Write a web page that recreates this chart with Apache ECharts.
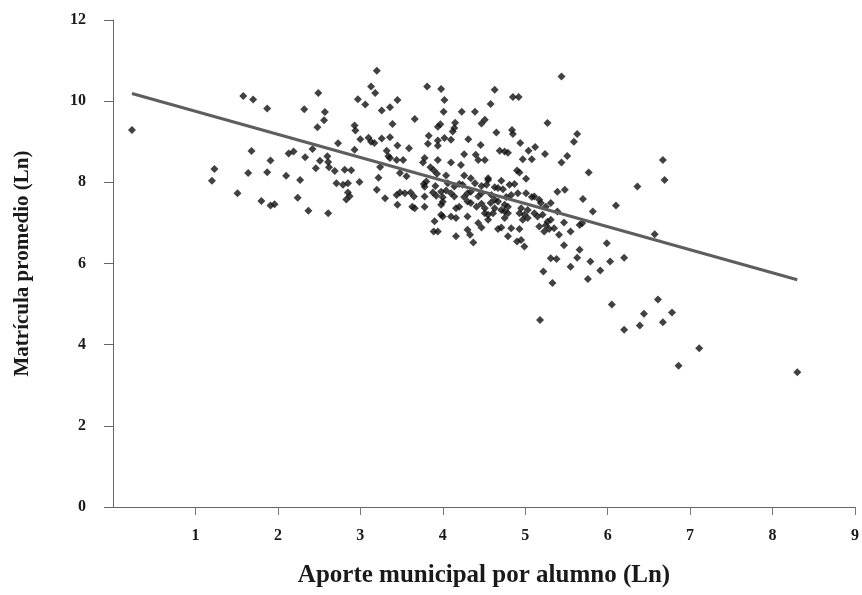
<!DOCTYPE html>
<html>
<head>
<meta charset="utf-8">
<script src="https://cdn.jsdelivr.net/npm/echarts@6/dist/echarts.min.js"></script>
<style>
  html, body { margin: 0; padding: 0; background: #fff; }
  #chart { width: 862px; height: 595px; }
</style>
</head>
<body>
<div id="chart"></div>
<script>
// Aporte municipal por alumno (Ln)
const aporte = [
  0.23, 1.20, 1.23, 1.51, 1.58, 1.70, 1.87, 1.68, 1.64, 1.80, 1.91, 1.96, 1.87, 1.91, 2.13, 2.19,
  2.10, 2.27, 2.24, 2.32, 2.33, 2.37, 2.42, 2.49, 2.57, 2.56, 2.48, 2.51, 2.46, 2.60, 2.61, 2.62,
  2.61, 2.69, 2.73, 2.71, 2.81, 2.89, 2.79, 2.85, 2.85, 2.87, 2.83, 2.93, 2.94, 2.93, 3.00, 2.99,
  2.97, 3.06, 3.10, 3.13, 3.17, 3.13, 3.18, 3.20, 3.26, 3.36, 3.45, 3.39, 3.26, 3.36, 3.45, 3.59,
  3.32, 3.34, 3.36, 3.44, 3.52, 3.24, 3.48, 3.56, 3.22, 3.20, 3.30, 3.44, 3.48, 3.54, 3.45, 3.61,
  3.65, 3.63, 3.66, 3.78, 3.78, 3.66, 3.81, 3.98, 4.02, 4.01, 3.97, 3.94, 3.83, 3.94, 4.02, 4.10,
  3.82, 3.94, 3.78, 3.76, 3.94, 4.10, 3.85, 3.89, 3.93, 4.04, 3.77, 3.80, 3.78, 3.91, 3.98, 4.00,
  3.88, 3.92, 4.04, 4.14, 4.06, 4.10, 4.14, 3.98, 4.00, 3.98, 3.90, 3.89, 3.94, 4.00, 4.10, 4.16,
  4.16, 4.15, 4.14, 4.12, 4.16, 4.20, 4.20, 4.22, 4.23, 4.39, 4.51, 4.47, 4.63, 4.85, 4.92, 4.58,
  4.65, 4.84, 4.85, 4.31, 4.46, 4.26, 4.40, 4.43, 4.51, 4.69, 4.75, 4.79, 4.94, 5.04, 5.12, 5.24,
  4.97, 5.08, 4.90, 4.93, 5.01, 4.26, 4.34, 4.55, 4.71, 5.44, 5.27, 5.63, 5.59, 5.51, 5.44, 5.77,
  6.67, 6.69, 6.36, 5.39, 5.48, 5.70, 5.82, 6.10, 6.57, 4.39, 4.47, 4.53, 4.63, 4.73, 4.81, 4.87,
  4.26, 4.30, 4.43, 4.47, 4.59, 4.63, 4.67, 4.77, 4.83, 5.01, 5.08, 5.17, 5.19, 5.31, 4.34, 4.41,
  4.58, 4.63, 4.61, 4.79, 4.75, 4.95, 4.99, 5.11, 5.15, 5.21, 5.31, 5.25, 5.29, 5.47, 5.66, 5.69,
  4.43, 4.47, 4.55, 4.67, 4.71, 4.79, 4.90, 4.95, 4.99, 4.83, 4.93, 5.41, 5.47, 5.66, 5.99, 4.30,
  4.33, 4.37, 5.31, 5.38, 5.63, 5.79, 6.03, 6.20, 5.55, 5.22, 5.33, 5.76, 5.91, 5.18, 6.05, 6.61,
  6.44, 6.78, 6.67, 6.39, 6.20, 7.11, 6.86, 8.30, 4.51, 5.03, 5.23, 5.55, 5.27, 5.17, 4.30, 4.47,
  4.55, 4.75, 4.79, 5.39, 4.34, 4.55, 4.67, 4.91, 5.11, 4.51, 4.71, 4.93, 5.03, 5.25, 4.30, 4.75,
  4.97, 5.35, 4.24
];
// Matrícula promedio (Ln)
const matricula = [
  9.29, 8.04, 8.33, 7.73, 10.13, 10.04, 9.82, 8.77, 8.23, 7.54, 7.43, 7.46, 8.25, 8.54, 8.71, 8.76,
  8.16, 8.06, 7.62, 9.80, 8.62, 7.30, 8.82, 10.20, 9.73, 9.53, 9.36, 8.53, 8.35, 8.64, 8.50, 8.37,
  7.24, 8.28, 8.96, 7.98, 8.31, 8.30, 7.94, 7.98, 7.75, 7.66, 7.58, 9.40, 9.28, 8.80, 9.06, 8.01,
  10.05, 9.92, 9.10, 9.00, 8.97, 10.36, 10.20, 10.75, 9.77, 9.85, 10.03, 9.44, 9.08, 9.11, 8.91, 8.84,
  8.78, 8.64, 8.60, 8.55, 8.55, 8.38, 8.23, 8.15, 8.11, 7.82, 7.61, 7.69, 7.75, 7.73, 7.45, 7.75,
  7.65, 7.40, 7.36, 7.65, 7.40, 9.56, 10.36, 10.30, 10.03, 9.74, 9.43, 9.37, 9.15, 9.03, 9.09, 9.05,
  8.95, 8.90, 8.60, 8.49, 8.55, 8.49, 8.37, 8.30, 8.21, 8.17, 7.96, 8.02, 7.89, 7.91, 7.77, 7.63,
  7.75, 7.67, 7.80, 7.90, 7.98, 7.73, 7.65, 7.45, 7.52, 7.20, 7.04, 6.79, 6.79, 7.16, 7.16, 7.12,
  6.67, 9.47, 9.34, 9.25, 7.36, 7.40, 7.96, 8.43, 9.74, 9.74, 9.54, 9.45, 10.28, 10.10, 10.10, 9.93,
  9.23, 9.29, 9.19, 9.06, 8.92, 8.69, 8.68, 8.55, 8.55, 8.78, 8.76, 8.73, 8.97, 8.78, 8.87, 8.70,
  8.57, 8.57, 8.29, 8.24, 8.09, 8.17, 8.10, 8.10, 8.04, 10.61, 9.46, 9.19, 9.00, 8.65, 8.49, 8.24,
  8.55, 8.06, 7.90, 7.77, 7.82, 7.59, 7.28, 7.43, 6.72, 7.98, 7.91, 7.94, 7.88, 7.83, 7.94, 7.96,
  7.64, 7.73, 7.65, 7.73, 7.69, 7.57, 7.53, 7.64, 7.69, 7.73, 7.64, 7.57, 7.49, 7.49, 7.49, 7.40,
  7.49, 7.36, 7.24, 7.40, 7.28, 7.36, 7.20, 7.24, 7.16, 7.20, 7.08, 6.94, 6.85, 7.01, 6.95, 6.99,
  7.00, 6.89, 7.08, 6.85, 6.89, 6.67, 6.54, 6.58, 6.42, 6.87, 6.85, 6.71, 6.45, 6.34, 6.50, 6.83,
  6.71, 6.52, 6.13, 6.11, 6.14, 6.05, 6.05, 6.14, 5.92, 5.80, 5.52, 5.62, 5.83, 4.61, 4.99, 5.11,
  4.76, 4.79, 4.55, 4.47, 4.37, 3.91, 3.48, 3.32, 7.24, 7.12, 6.79, 6.79, 7.03, 6.91, 7.53, 7.47,
  7.20, 7.45, 7.24, 7.28, 7.77, 8.06, 7.86, 7.73, 7.65, 7.36, 7.32, 7.24, 7.32, 7.40, 7.16, 7.12,
  7.08, 6.87, 7.94
];
// recta de tendencia (extremos)
const trendX = [0.23, 8.3];
const trendY = [10.19, 5.6];

const xTicks = [0, 1, 2, 3, 4, 5, 6, 7, 8, 9];
const yTicks = [0, 2, 4, 6, 8, 10, 12];

const points = aporte.map((x, i) => [x, matricula[i]]);
const trend = trendX.map((x, i) => [x, trendY[i]]);

const myChart = echarts.init(document.getElementById("chart"));
const serif = "'Liberation Serif', 'DejaVu Serif', serif";
const option = {
  animation: false,
  backgroundColor: "#fff",
  grid: {
    left: 113,
    right: 4,
    top: 20,
    bottom: 88
  },
  xAxis: {
    type: "value",
    min: xTicks[0],
    max: xTicks[xTicks.length - 1],
    interval: 1,
    name: "Aporte municipal por alumno (Ln)",
    nameLocation: "middle",
    nameGap: 56,
    nameTextStyle: {
      fontFamily: serif,
      fontWeight: "bold",
      fontSize: 25,
      color: "#1a1a1a"
    },
    axisLine: { show: true, lineStyle: { color: "#666", width: 1 } },
    axisTick: { show: true, length: 8, lineStyle: { color: "#777" } },
    axisLabel: {
      showMinLabel: false,
      margin: 21,
      fontFamily: serif,
      fontWeight: "bold",
      fontSize: 16,
      color: "#1a1a1a"
    },
    splitLine: { show: false }
  },
  yAxis: {
    type: "value",
    min: yTicks[0],
    max: yTicks[yTicks.length - 1],
    interval: 2,
    name: "Matrícula promedio (Ln)",
    nameLocation: "middle",
    nameGap: 80,
    nameRotate: 90,
    nameTextStyle: {
      fontFamily: serif,
      fontWeight: "bold",
      fontSize: 21,
      color: "#1a1a1a"
    },
    axisLine: { show: true, lineStyle: { color: "#666", width: 1 } },
    axisTick: { show: true, length: 9, lineStyle: { color: "#666" } },
    axisLabel: {
      margin: 27,
      fontFamily: serif,
      fontWeight: "bold",
      fontSize: 16,
      color: "#1a1a1a"
    },
    splitLine: { show: false }
  },
  series: [
    {
      type: "scatter",
      data: points,
      symbol: "diamond",
      symbolSize: 8,
      itemStyle: { color: "#111" },
      z: 2
    },
    {
      type: "line",
      data: trend,
      showSymbol: false,
      symbol: "none",
      lineStyle: { color: "#5e5e5e", width: 3 },
      z: 3
    }
  ]
};
myChart.setOption(option);
</script>
</body>
</html>
